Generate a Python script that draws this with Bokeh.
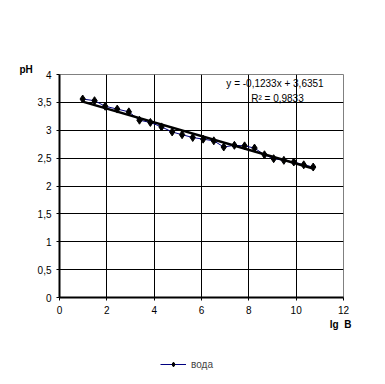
from bokeh.plotting import figure
from bokeh.models import FixedTicker, Label, Legend, LegendItem, Range1d, Title
from bokeh.layouts import column
from bokeh.embed import file_html
from bokeh.resources import INLINE

# data
lgB = [0.98, 1.48, 1.93, 2.44, 2.93, 3.38, 3.84, 4.31, 4.76, 5.18, 5.63, 6.07,
       6.52, 6.94, 7.39, 7.82, 8.24, 8.66, 9.05, 9.48, 9.90, 10.32, 10.72]
pH = [3.56, 3.53, 3.43, 3.38, 3.33, 3.18, 3.14, 3.06, 2.97, 2.92, 2.87, 2.84,
      2.81, 2.70, 2.73, 2.72, 2.68, 2.56, 2.49, 2.46, 2.43, 2.38, 2.34]
slope = -0.1233
intercept = 3.6351
r2_text = "R² = 0,9833"
eq_text = "y = -0,1233x + 3,6351"
x_ticks = [0, 2, 4, 6, 8, 10, 12]
y_ticks = [0, 0.5, 1, 1.5, 2, 2.5, 3, 3.5, 4]
y_labels = ["0", "0,5", "1", "1,5", "2", "2,5", "3", "3,5", "4"]
series_name = "вода"

FONT = "Liberation Sans"

p = figure(output_backend="svg", toolbar_location=None,
           frame_width=284, frame_height=223,
           min_border_left=59, min_border_top=74, min_border_right=33, min_border_bottom=43,
           x_range=Range1d(0, 12), y_range=Range1d(0, 4))
p.background_fill_color = "white"
p.border_fill_color = "white"
p.outline_line_color = "#808080"
p.outline_line_width = 1

for ax, ticks in ((p.xaxis, x_ticks), (p.yaxis, y_ticks)):
    ax.ticker = FixedTicker(ticks=ticks)
    ax.axis_line_color = "black"
    ax.axis_line_width = 2
    ax.major_tick_line_color = "black"
    ax.major_tick_line_width = 1
    ax.major_tick_out = 3
    ax.major_tick_in = 0
    ax.minor_tick_line_color = None
    ax.major_label_text_font = FONT
    ax.major_label_text_font_size = "10px"
    ax.major_label_text_color = "black"
p.yaxis.major_label_overrides = {t: l for t, l in zip(y_ticks, y_labels)}
p.xaxis.major_label_standoff = 5
p.yaxis.major_label_standoff = 5

p.xgrid.ticker = FixedTicker(ticks=x_ticks)
p.ygrid.ticker = FixedTicker(ticks=y_ticks)
p.grid.grid_line_color = "black"
p.grid.grid_line_width = 1
p.grid.grid_line_alpha = 1

# series
ln = p.line(lgB, pH, line_color="#000080", line_width=1)
sc = p.scatter(lgB, pH, marker="diamond", size=8, fill_color="black", line_color="black")

# trendline
xs = [min(lgB), max(lgB)]
ys = [slope * x + intercept for x in xs]
p.line(xs, ys, line_color="black", line_width=2.5)

p.add_layout(Label(x=7.05, y=3.94, text=eq_text, text_baseline="top",
                   text_font=FONT, text_font_size="10px", text_color="black"))
p.add_layout(Label(x=8.1, y=3.67, text=r2_text, text_baseline="top",
                   text_font=FONT, text_font_size="10px", text_color="black"))

t_ph = Title(text="pH", align="left", offset=-40, standoff=0,
             text_font=FONT, text_font_size="10px", text_font_style="bold",
             text_color="black")
p.add_layout(t_ph, "above")
t_lg = Title(text="lg\u00a0\u00a0B", align="right", offset=-8, standoff=0,
             text_font=FONT, text_font_size="10px", text_font_style="bold",
             text_color="black")
p.add_layout(t_lg, "below")

# legend panel below the chart
q = figure(output_backend="svg", toolbar_location=None,
           frame_width=p.frame_width + 59 + 33, frame_height=36,
           min_border=0, x_range=Range1d(0, 1), y_range=Range1d(0, 1))
q.axis.visible = False
q.grid.visible = False
q.outline_line_color = None
q.background_fill_color = "white"
q.border_fill_color = "white"
# sample renderers for the legend key (placed outside the visible range)
qln = q.line([-5, -4], [-5, -4], line_color="#000080", line_width=1)
qsc = q.scatter([-5], [-5], marker="diamond", size=8, fill_color="black", line_color="black")
legend = Legend(items=[LegendItem(label=series_name, renderers=[qln, qsc])],
                location=(160, 6), orientation="horizontal",
                padding=0, margin=0, glyph_width=26, glyph_height=12,
                label_text_font=FONT, label_text_font_size="10px",
                label_standoff=5, border_line_color=None,
                background_fill_alpha=0)
q.add_layout(legend, "center")

open("out.html", "w").write(file_html(column(p, q, spacing=0), INLINE))
